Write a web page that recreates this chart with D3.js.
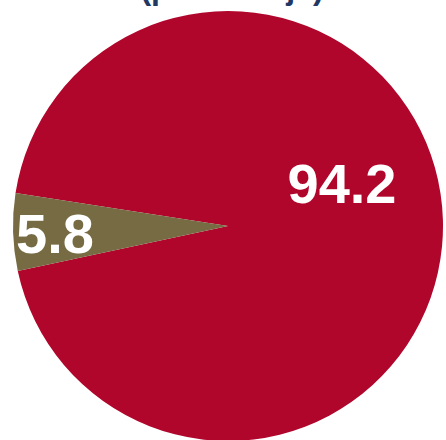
<!DOCTYPE html>
<html>
<head>
<meta charset="utf-8">
<script src="https://cdn.jsdelivr.net/npm/d3@7"></script>
<style>
  body { margin: 0; background: #fff; }
  svg { display: block; }
</style>
</head>
<body>
<svg id="chart"></svg>
<script>
var categories = ['Mayoría', 'Minoría']
var values = [94.2, 5.8]
var colors = ['#B0062C', '#766B42']
var title = '(porcentaje)'

var width = 446
var height = 440
var radius = 215
var cx = 228
var cy = 226

var svg = d3.select('#chart')
  .attr('width', width)
  .attr('height', height)

// title sits mostly above the visible area, as in the source
svg.append('text')
  .attr('x', 232)
  .attr('y', -1)
  .attr('text-anchor', 'middle')
  .style('font-family', 'Liberation Sans, Arial, sans-serif')
  .style('font-weight', 'bold')
  .style('font-size', '32px')
  .style('fill', '#1F3864')
  .text(title)

var data = categories.map(function (c, i) {
  return { key: c, value: values[i], color: colors[i] }
})

var start = 278.8 * Math.PI / 180
var pie = d3.pie()
  .sort(null)
  .value(function (d) { return d.value })
  .startAngle(start)
  .endAngle(start + 2 * Math.PI)

var arc = d3.arc().innerRadius(0).outerRadius(radius)

var g = svg.append('g')
  .attr('transform', 'translate(' + cx + ',' + cy + ')')

var arcs = pie(data)

g.selectAll('path')
  .data(arcs)
  .enter().append('path')
  .attr('d', arc)
  .attr('fill', function (d) { return d.data.color })

// label positions as offsets from the centre
var labelPos = [[114, -23], [-173, 27]]

g.selectAll('.label')
  .data(arcs)
  .enter().append('text')
  .attr('class', 'label')
  .attr('x', function (d, i) { return labelPos[i][0] })
  .attr('y', function (d, i) { return labelPos[i][1] })
  .attr('text-anchor', 'middle')
  .style('font-family', 'Liberation Sans, Arial, sans-serif')
  .style('font-weight', 'bold')
  .style('font-size', '56px')
  .style('fill', '#fff')
  .text(function (d) { return d3.format('.1f')(d.data.value) })
</script>
</body>
</html>
